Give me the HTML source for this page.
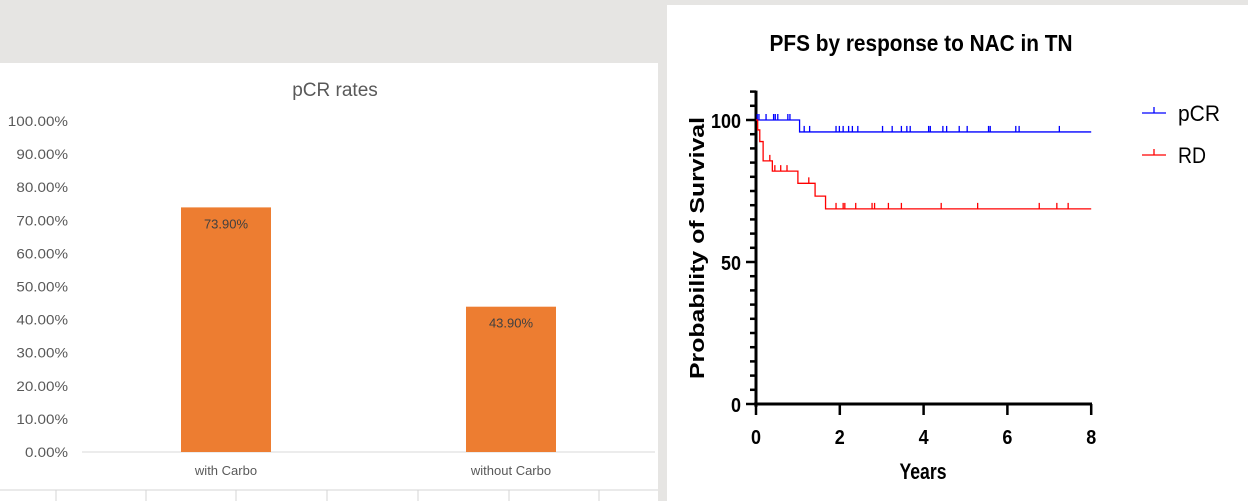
<!DOCTYPE html>
<html><head><meta charset="utf-8"><style>
body{margin:0;width:1248px;height:501px;background:#e6e5e3;overflow:hidden;position:relative;font-family:"Liberation Sans",sans-serif}
svg{position:absolute;left:0;top:0}
</style></head><body>
<svg width="1248" height="501">
<rect x="0" y="0" width="1248" height="501" fill="#e6e5e3"/>
<rect x="0" y="63" width="658" height="438" fill="#ffffff"/>
<g id="cells"></g>
<g id="bar"></g>
<rect x="667" y="5" width="581" height="496" fill="#ffffff"/>
<g id="km"></g>
</svg>
<script>
const NS='http://www.w3.org/2000/svg';
function mk(tag,attrs,parent,text){const e=document.createElementNS(NS,tag);for(const k in attrs)e.setAttribute(k,attrs[k]);if(text!==undefined)e.textContent=text;parent.appendChild(e);return e;}

// ---- bar chart data ----
const barCategories=['with Carbo','without Carbo'];
const barValues=[73.9,43.9];
const barTicks=[0,10,20,30,40,50,60,70,80,90,100];

// ---- KM data ----
const kmXTicks=[0,2,4,6,8];
const kmYTicks=[0,50,100];
const pcrTimes=[0,1.04,8];
const pcrSurv=[100,95.8,95.8];
const pcrCensorT=[0.03,0.07,0.24,0.42,0.46,0.52,0.76,0.81,1.15,1.28,1.91,1.99,2.08,2.21,2.30,2.43,3.02,3.25,3.47,3.60,3.68,4.12,4.16,4.46,4.55,4.85,5.04,5.55,5.59,6.20,6.28,7.24];
const rdTimes=[0,0.04,0.09,0.17,0.39,1.0,1.41,1.66,8];
const rdSurv=[100,96.5,92.4,85.6,82,77.7,73.2,68.7,68.7];
const rdCensorT=[0.33,0.45,0.59,0.74,1.26,1.91,2.08,2.12,2.38,2.77,2.83,3.16,3.47,4.42,5.29,6.76,7.18,7.45];

// cells
const cells=document.getElementById('cells');
mk('line',{x1:0,y1:490,x2:658,y2:490,stroke:'#d4d4d4'},cells);
[56,146,236,327,418,509,599].forEach(x=>{const l=mk('line',{x1:x,y1:490,x2:x,y2:501,stroke:'#d4d4d4'},cells);});

// bar chart
const bar=document.getElementById('bar');
const by=v=>452-v*3.31;
const bx=i=>226+i*285;
const t=mk('text',{x:335,y:96,'text-anchor':'middle','font-size':19,fill:'#595959'},bar,'pCR rates');

barTicks.forEach(v=>{const s=v.toFixed(2)+'%';const e=mk('text',{x:68,y:by(v)+5,'text-anchor':'end','font-size':14,fill:'#595959',textLength:s.length*8.6,lengthAdjust:'spacingAndGlyphs'},bar,s);
});
mk('line',{x1:82,y1:452,x2:655,y2:452,stroke:'#d9d9d9'},bar);
barValues.forEach((v,i)=>{
 const r=mk('rect',{x:bx(i)-45,y:by(v),width:90,height:452-by(v),fill:'#ed7d31'},bar);
 
 const l=mk('text',{x:bx(i),y:by(v)+21,'text-anchor':'middle','font-size':13,fill:'#404040'},bar,v.toFixed(2)+'%');
 
 const c=mk('text',{x:bx(i),y:475,'text-anchor':'middle','font-size':13,fill:'#595959'},bar,barCategories[i]);
 
});

// KM chart
const km=document.getElementById('km');
const kx=v=>756+v*41.9;
const ky=v=>404-v*2.84;
const kt=mk('text',{x:921,y:51,'text-anchor':'middle','font-size':23,'font-weight':'bold',fill:'#000',textLength:303,lengthAdjust:'spacingAndGlyphs'},km,'PFS by response to NAC in TN');

const yl=mk('text',{x:0,y:0,transform:'translate(704,248) rotate(-90)','text-anchor':'middle','font-size':20,'font-weight':'bold',fill:'#000',textLength:262,lengthAdjust:'spacingAndGlyphs'},km,'Probability of Survival');

const xl=mk('text',{x:923,y:479,'text-anchor':'middle','font-size':22,'font-weight':'bold',fill:'#000',textLength:47,lengthAdjust:'spacingAndGlyphs'},km,'Years');

mk('line',{x1:756,y1:ky(110)-1,x2:756,y2:407,stroke:'#000','stroke-width':3},km);
mk('line',{x1:754,y1:404,x2:1092,y2:404,stroke:'#000','stroke-width':3},km);
for(let v=0;v<=110;v+=5){mk('line',{x1:kmYTicks.includes(v)?746:750,y1:ky(v),x2:756,y2:ky(v),stroke:'#000','stroke-width':2.5},km);}
kmYTicks.forEach(v=>{const e=mk('text',{x:741,y:ky(v)+8,'text-anchor':'end','font-size':20,'font-weight':'bold',fill:'#000',textLength:String(v).length*10,lengthAdjust:'spacingAndGlyphs'},km,String(v));
});
kmXTicks.forEach(v=>{mk('line',{x1:kx(v),y1:404,x2:kx(v),y2:415,stroke:'#000','stroke-width':2.5},km);
const e=mk('text',{x:kx(v),y:444,'text-anchor':'middle','font-size':20,'font-weight':'bold',fill:'#000',textLength:10,lengthAdjust:'spacingAndGlyphs'},km,String(v));
});
function survAt(T,S,t){let s=S[0];for(let i=0;i<T.length;i++){if(T[i]<=t)s=S[i];}return s;}
function curve(T,S,C,color,name){
 let d='M'+kx(T[0])+','+ky(S[0]);
 for(let i=1;i<T.length;i++){d+=' H'+kx(T[i])+' V'+ky(S[i]);}
 const p=mk('path',{d:d,fill:'none',stroke:color,'stroke-width':1.3},km);
 
 C.forEach(c=>{const y=ky(survAt(T,S,c));const m=mk('line',{x1:kx(c),y1:y,x2:kx(c),y2:y-6,stroke:color,'stroke-width':1.3},km);
 });
}
curve(pcrTimes,pcrSurv,pcrCensorT,'#0000ff','pcr');
curve(rdTimes,rdSurv,rdCensorT,'#ff0000','rd');
[['pCR','#0000ff',113],['RD','#ff0000',155]].forEach(([n,c,y])=>{
 mk('line',{x1:1142,y1:y,x2:1166,y2:y,stroke:c,'stroke-width':1.3},km);
 mk('line',{x1:1154,y1:y,x2:1154,y2:y-6,stroke:c,'stroke-width':1.3},km);
 const e=mk('text',{x:1178,y:y+8,'font-size':22,fill:'#000',textLength:n.length*14,lengthAdjust:'spacingAndGlyphs'},km,n);
 
});
</script>
</body></html>
